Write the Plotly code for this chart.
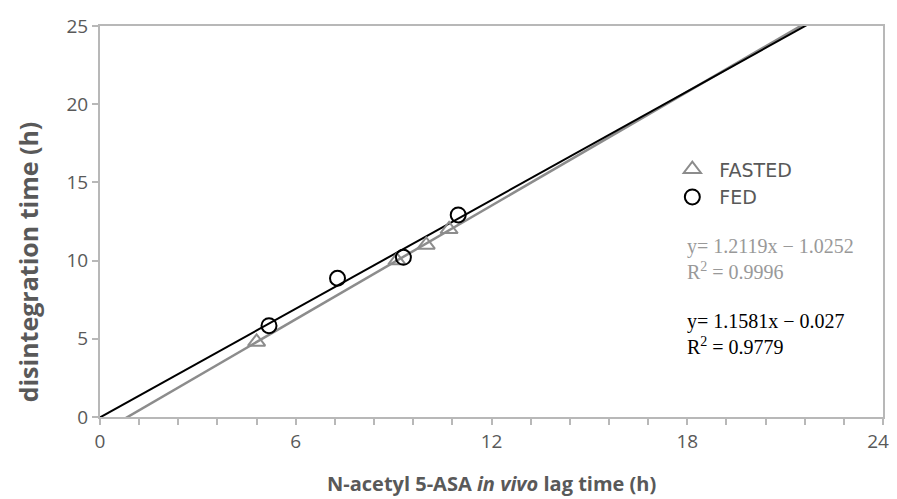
import plotly.graph_objects as go

# data
fasted_x = [4.8, 9.1, 10.0, 10.7]
fasted_y = [4.8, 10.0, 11.0, 12.0]
fed_x = [5.18, 7.28, 9.3, 10.98]
fed_y = [5.84, 8.87, 10.21, 12.92]

# trendlines printed on the chart
fasted_fit = (1.2119, -1.0252)
fed_fit = (1.1581, -0.027)
line_x = [0, 24]

x_ticks = [0, 6, 12, 18, 24]
# last label padded so it is not clipped at the right edge
x_labels = ["0", "6", "12", "18", "24\u00a0\u00a0"]

gray = "#8c8c8c"
axis_col = "#b8b8b8"
text_col = "#595959"

fig = go.Figure()

fig.add_trace(go.Scatter(
    x=line_x, y=[fasted_fit[0] * v + fasted_fit[1] for v in line_x],
    mode="lines", line=dict(color=gray, width=2.5), showlegend=False,
    hoverinfo="skip"
))
fig.add_trace(go.Scatter(
    x=line_x, y=[fed_fit[0] * v + fed_fit[1] for v in line_x],
    mode="lines", line=dict(color="black", width=2), showlegend=False,
    hoverinfo="skip"
))
fig.add_trace(go.Scatter(
    x=fasted_x, y=fasted_y, mode="markers", name="FASTED",
    marker=dict(symbol="triangle-up-open", size=15, color=gray,
                line=dict(width=2, color=gray))
))
fig.add_trace(go.Scatter(
    x=fed_x, y=fed_y, mode="markers", name="FED",
    marker=dict(symbol="circle-open", size=15, color="black",
                line=dict(width=2, color="black"))
))

# page body has an 8px margin at top/left, so trim the figure by that much
fig.update_layout(
    width=889, height=491,
    margin=dict(l=92, r=14, t=18, b=82),
    plot_bgcolor="white", paper_bgcolor="white",
    font=dict(family="Open Sans, sans-serif", color=text_col, size=19),
    legend=dict(x=0.722, y=0.682, xanchor="left", yanchor="top",
                font=dict(size=19, color=text_col, family="DejaVu Sans"),
                bgcolor="rgba(0,0,0,0)", tracegroupgap=0, itemwidth=44),
    xaxis=dict(
        range=[0, 24], tickmode="array", tickvals=x_ticks, ticktext=x_labels,
        showgrid=False, zeroline=False, ticklabeloverflow="allow",
        showline=True, linecolor=axis_col, linewidth=2, mirror=True,
        ticks="outside", ticklen=6, tickcolor=axis_col, tickwidth=2,
        minor=dict(dtick=1.2, tick0=0, ticks="outside", ticklen=6,
                   tickcolor=axis_col, tickwidth=2, showgrid=False),
        tickfont=dict(size=19, color=text_col), automargin=False,
    ),
    yaxis=dict(
        range=[0, 25], dtick=5, showgrid=False, zeroline=False,
        showline=True, linecolor=axis_col, linewidth=2, mirror=True,
        ticks="outside", ticklen=6, tickcolor=axis_col, tickwidth=2,
        tickfont=dict(size=19, color=text_col), automargin=False,
    ),
)

annos = [
    dict(x=0.5, y=-0.171, text="<b>N-acetyl 5-ASA <i>in vivo</i> lag time (h)</b>",
         xanchor="center", yanchor="middle", font=dict(size=20, color=text_col)),
    dict(x=-0.092, y=0.398, text="<b>disintegration time (h)</b>", textangle=-90,
         xanchor="center", yanchor="middle", font=dict(size=25, color=text_col)),
    dict(x=0.747, y=0.404, text="y= 1.2119x \u2212 1.0252<br>R<sup>2</sup> = 0.9996",
         xanchor="left", yanchor="middle", align="left",
         font=dict(family="Liberation Serif, serif", size=20, color="#999999")),
    dict(x=0.747, y=0.212, text="y= 1.1581x \u2212 0.027<br>R<sup>2</sup> = 0.9779",
         xanchor="left", yanchor="middle", align="left",
         font=dict(family="Liberation Serif, serif", size=20, color="black")),
]
for a in annos:
    fig.add_annotation(xref="paper", yref="paper", showarrow=False, **a)

fig.write_html("out.html")
